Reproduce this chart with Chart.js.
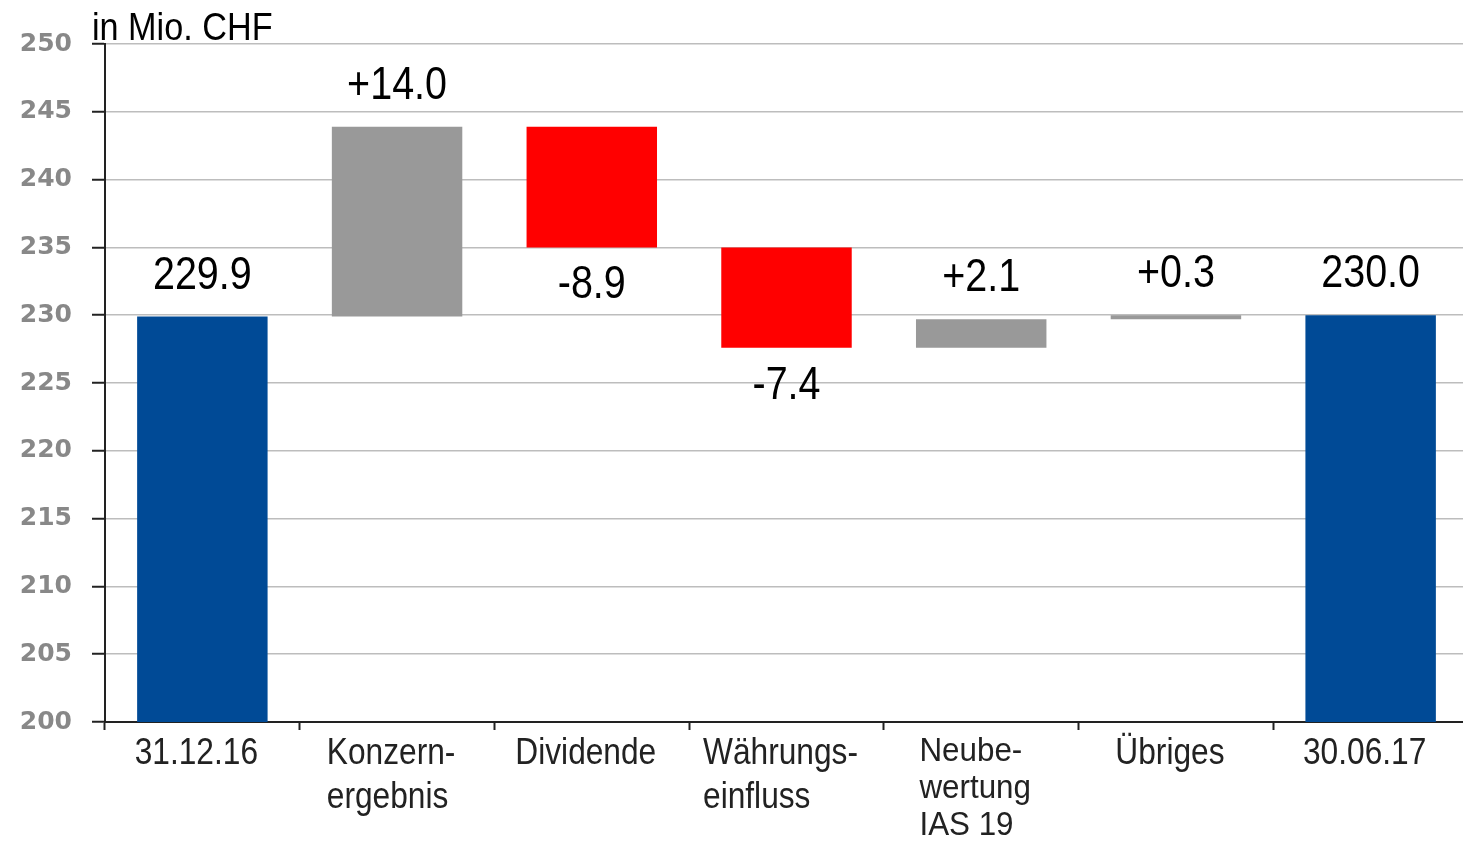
<!DOCTYPE html>
<html>
<head>
<meta charset="utf-8">
<script src="https://cdn.jsdelivr.net/npm/chart.js@4/dist/chart.umd.min.js"></script>
<style>
  html, body { margin: 0; padding: 0; background: #fff; overflow: hidden; }
  #wrap { width: 1468px; height: 842px; }
</style>
</head>
<body>
<div id="wrap"><canvas id="grafico"></canvas></div>
<script>
// Daten
const kategorien = [
  ["31.12.16"],
  ["Konzern-", "ergebnis"],
  ["Dividende"],
  ["Währungs-", "einfluss"],
  ["Neube-", "wertung", "IAS 19"],
  ["Übriges"],
  ["30.06.17"]
];
const startWert = 229.9;
const veraenderungen = [14.0, -8.9, -7.4, 2.1, 0.3];
const endWert = 230.0;
const yTicks = [200, 205, 210, 215, 220, 225, 230, 235, 240, 245, 250];

const BLAU = "#004A96", GRAU = "#999999", ROT = "#FF0000";
const SCHRIFT = "'Liberation Sans', Arial, sans-serif";

// Wasserfall aufbauen
const balken = [[yTicks[0], startWert]];
const farben = [BLAU];
const texte = [startWert.toFixed(1)];
let stand = startWert;
veraenderungen.forEach(d => {
  const neu = Math.round((stand + d) * 10) / 10;
  balken.push([Math.min(stand, neu), Math.max(stand, neu)]);
  farben.push(d >= 0 ? GRAU : ROT);
  texte.push((d >= 0 ? "+" : "") + d.toFixed(1));
  stand = neu;
});
balken.push([yTicks[0], endWert]);
farben.push(BLAU);
texte.push(endWert.toFixed(1));

// schmale Schrift simulieren (keine Narrow-Schrift installiert)
function schmalerText(ctx, txt, x, y, faktor, align) {
  ctx.save();
  ctx.translate(x, y);
  ctx.scale(faktor, 1);
  ctx.textAlign = align;
  ctx.fillText(txt, 0, 0);
  ctx.restore();
}

// Beschriftungen: Balkenwerte, Kategorien, Einheit
const beschriftung = {
  id: "beschriftung",
  afterDraw(chart) {
    const ctx = chart.ctx;
    const meta = chart.getDatasetMeta(0);
    const xs = chart.scales.x;
    ctx.save();
    ctx.fillStyle = "#000";
    ctx.textBaseline = "middle";
    ctx.font = "47px " + SCHRIFT;
    meta.data.forEach((bar, i) => {
      const unten = i > 0 && i < meta.data.length - 1 && veraenderungen[i - 1] < 0;
      const p = bar.getProps(["x", "y", "base"], true);
      const oben = Math.min(p.y, p.base), boden = Math.max(p.y, p.base);
      const y = unten ? boden + 38 : oben - 41;
      schmalerText(ctx, texte[i], p.x, y, 0.84, "center");
    });

    // Kategorien (Zeilen linksbündig, Block zentriert)
    ctx.fillStyle = "#222";
    ctx.textBaseline = "alphabetic";
    kategorien.forEach((zeilen, i) => {
      const klein = zeilen.length > 2;
      const f = klein ? 0.95 : 0.88;
      ctx.font = (klein ? 33 : 36) + "px " + SCHRIFT;
      const abstand = klein ? 37 : 44;
      const basis = xs.top + (klein ? 39 : 42);
      const breite = Math.max(...zeilen.map(z => ctx.measureText(z).width)) * f;
      const links = xs.getPixelForValue(i) - breite / 2 - 6;
      zeilen.forEach((z, j) => {
        schmalerText(ctx, z, links, basis + j * abstand, f, "left");
      });
    });

    ctx.fillStyle = "#000";
    ctx.font = "38px " + SCHRIFT;
    schmalerText(ctx, "in Mio. CHF", chart.chartArea.left - 13, chart.chartArea.top - 4, 0.9, "left");
    ctx.restore();
  }
};

const canvas = document.getElementById("grafico");
new Chart(canvas.getContext("2d"), {
  type: "bar",
  data: {
    labels: kategorien,
    datasets: [{
      data: balken,
      backgroundColor: farben,
      borderWidth: 0,
      barPercentage: 0.67,
      categoryPercentage: 1.0
    }]
  },
  options: {
    responsive: true,
    maintainAspectRatio: false,
    animation: false,
    layout: { padding: { top: 44, right: 0, left: 0, bottom: 0 } },
    plugins: {
      legend: { display: false },
      tooltip: { enabled: false }
    },
    scales: {
      x: {
        grid: {
          drawOnChartArea: false,
          drawTicks: true,
          tickLength: 8,
          tickColor: "#222",
          tickWidth: 2
        },
        border: { color: "#222", width: 2 },
        ticks: { display: false },
        afterFit(scale) { scale.height = 120; }
      },
      y: {
        min: 200,
        max: 250,
        afterBuildTicks(scale) { scale.ticks = yTicks.map(v => ({ value: v })); },
        grid: {
          color: "#bdbdbd",
          lineWidth: 1.5,
          tickLength: 13,
          tickColor: "#222",
          tickWidth: 2
        },
        border: { color: "#222", width: 2 },
        ticks: {
          color: "#888",
          padding: 20,
          font: { family: "'DejaVu Sans', sans-serif", size: 25, weight: "bold" }
        },
        afterFit(scale) { scale.width = 105; }
      }
    }
  },
  plugins: [beschriftung]
});
</script>
</body>
</html>
